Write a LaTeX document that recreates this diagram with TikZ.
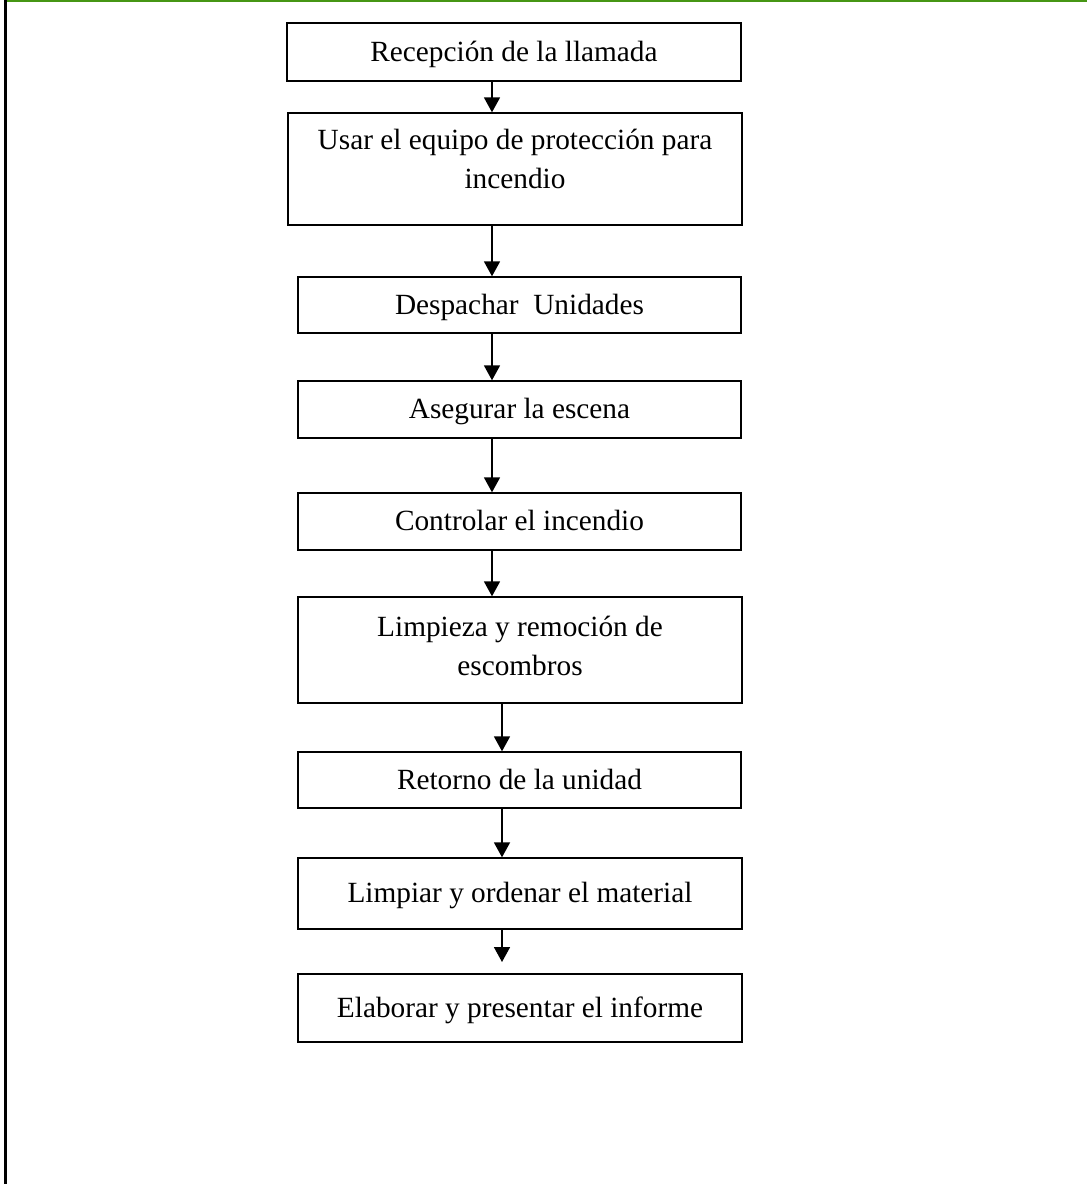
\documentclass[tikz,border=0pt]{standalone}
\usepackage{fontspec}
\setmainfont{Liberation Serif}
\usetikzlibrary{arrows.meta}
\begin{document}
\begin{tikzpicture}[x=1pt,y=-1pt,
  box/.style={draw=black, line width=1.4pt, rectangle, inner sep=0pt, minimum width=443pt, text height=24pt, text depth=5.9pt, font=\fontsize{29.3}{38.5}\selectfont},
  lbl/.style={inner sep=0pt, align=center, font=\fontsize{29.3}{38.5}\selectfont},
  arr/.style={draw=black, line width=1.8pt, -{Triangle[width=16pt,length=15pt]}}]
\useasboundingbox (0,0) rectangle (1087,1184);
\fill[white] (0,0) rectangle (1087,1184);
% frame
\coordinate (ftl) at (7,1);
\coordinate (ftr) at (1087,1);
\coordinate (flt) at (5.5,0);
\coordinate (flb) at (5.5,1184);
\draw[draw={rgb,255:red,70;green,150;blue,20}, line width=2pt] (ftl) -- (ftr);
\draw[black, line width=2.2pt] (flt) -- (flb);
% boxes
\node[box, minimum width=454pt, minimum height=58pt] (b1) at (514,52) {Recepción de la llamada};
\node[box, minimum width=454pt, minimum height=112pt] (b2) at (515,169) {};
\node[lbl] (t2) at (515,159) {Usar el equipo de protección para\\incendio};
\node[box, minimum height=56pt] (b3) at (519.5,305) {Despachar\ \ Unidades};
\node[box, minimum height=57pt] (b4) at (519.5,409.5) {Asegurar la escena};
\node[box, minimum height=57pt] (b5) at (519.5,521.5) {Controlar el incendio};
\node[box, minimum width=444pt, minimum height=106pt] (b6) at (520,650) {};
\node[lbl] (t6) at (520,646) {Limpieza y remoción de\\escombros};
\node[box, minimum height=56pt] (b7) at (519.5,780) {Retorno de la unidad};
\node[box, minimum width=444pt, minimum height=71pt] (b8) at (520,893.5) {Limpiar y ordenar el material};
\node[box, minimum width=444pt, minimum height=68pt] (b9) at (520,1008) {Elaborar y presentar el informe};
% arrows
\coordinate (ca) at (492,0);
\coordinate (cb) at (502,0);
\coordinate (e9) at (502,962);
\draw[arr] (b1.south -| ca) -- (b2.north -| ca);
\draw[arr] (b2.south -| ca) -- (b3.north -| ca);
\draw[arr] (b3.south -| ca) -- (b4.north -| ca);
\draw[arr] (b4.south -| ca) -- (b5.north -| ca);
\draw[arr] (b5.south -| ca) -- (b6.north -| ca);
\draw[arr] (b6.south -| cb) -- (b7.north -| cb);
\draw[arr] (b7.south -| cb) -- (b8.north -| cb);
\draw[arr] (b8.south -| cb) -- (e9);
\end{tikzpicture}
\end{document}
